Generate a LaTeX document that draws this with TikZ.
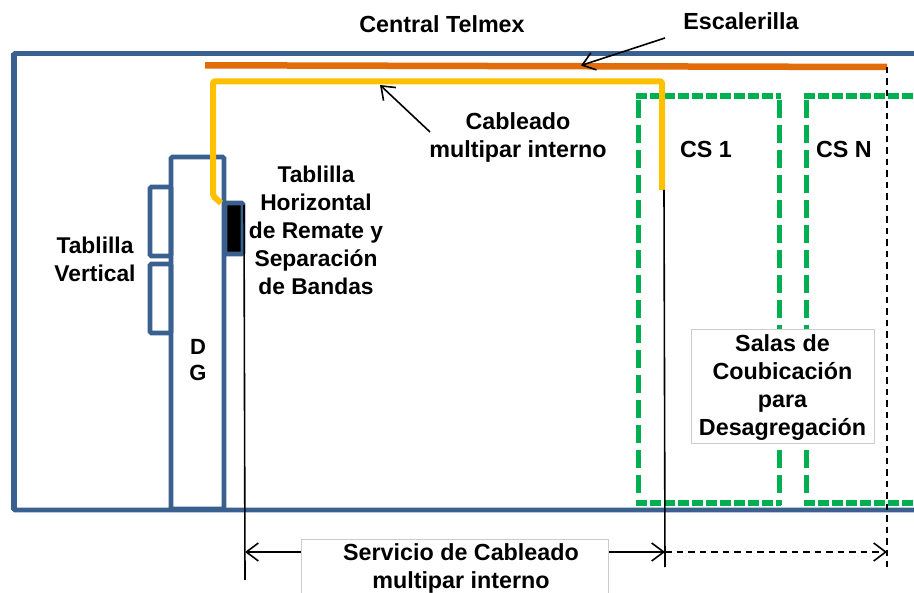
\documentclass[tikz,border=0pt]{standalone}
\usepackage{fontspec}
\setmainfont{Liberation Sans}
\usetikzlibrary{arrows.meta}
\definecolor{frameblue}{HTML}{3A6090}
\definecolor{trayorange}{HTML}{E36C0A}
\definecolor{cableyellow}{HTML}{FFC000}
\definecolor{roomgreen}{HTML}{00B050}
\tikzset{
  x=1pt,y=-1pt,
  lbl/.style={font=\bfseries\fontsize{23.3}{28}\selectfont,align=center,text=black,inner sep=0pt},
  lblnarrow/.style={lbl,font=\bfseries\fontsize{22.8}{28}\selectfont},
  bluebox/.style={draw=frameblue,line width=4.8pt,rounded corners=1.5pt},
  roomh/.style={draw=roomgreen,line width=6pt,dash pattern=on 11pt off 3pt},
  roomv/.style={draw=roomgreen,line width=5pt,dash pattern=on 18.5pt off 6.5pt},
  thinline/.style={draw=black,line width=1.6pt},
  dashline/.style={draw=black,line width=1.4pt,dash pattern=on 6.5pt off 5pt},
  dimarrow/.style={-{Straight Barb[length=12pt,width=18pt,line width=1.6pt]}},
  labelbox/.style={draw=black!20,line width=0.6pt,fill=white}
}
\begin{document}
\begin{tikzpicture}
\useasboundingbox (0,0) rectangle (914,593);
% named points
\coordinate (frameTL) at (13.5,53.5);
\coordinate (frameTR) at (914,53.5);
\coordinate (frameBL) at (13.5,510);
\coordinate (frameBR) at (914,510);
\coordinate (trayL) at (205,65.3);
\coordinate (trayR) at (887,67);
\coordinate (escTip) at (581,65.5);
\coordinate (multTip) at (380,85);
\coordinate (leftTickTop) at (244,205);
\coordinate (leftTickBot) at (245,580);
\coordinate (midTickTop) at (664,190);
\coordinate (midTickBot) at (665,567);
\coordinate (rightTickTop) at (887,67);
\coordinate (rightTickBot) at (887,567);
\coordinate (dimL) at (245,552);
\coordinate (dimM) at (665,552);
\coordinate (dimR) at (887,552);
% rooms
\draw[roomh] (636,96.5) -- (781,96.5);
\draw[roomh] (636,503.5) -- (781,503.5);
\draw[roomv] (638,100) -- (638,505);
\draw[roomv] (779,100) -- (779,505);
\draw[roomh] (804,96.5) -- (915,96.5);
\draw[roomh] (804,503.5) -- (915,503.5);
\draw[roomv] (806,100) -- (806,505);
% frame
\draw[bluebox] (frameTR) -- (frameTL) -- (frameBL) -- (frameBR);
\draw[frameblue,line width=6pt] (frameTL) -- (frameBL);
% distribution frame
\draw[bluebox,fill=white] (171,157) rectangle (224,509);
\draw[bluebox] (150,187) rectangle (171,256);
\draw[bluebox] (150,264) rectangle (171,333);
\draw[bluebox,fill=black] (225,203) rectangle (243,254);
% tray
\draw[trayorange,line width=6.5pt] (trayL) -- (trayR);
% yellow cable
\draw[cableyellow,line width=6pt,line join=round,rounded corners=2pt] (221,203) -- (213,196) -- (213,81.3) -- (662,81.3) -- (662,190);
% dimension ticks
\draw[thinline] (leftTickTop) -- (leftTickBot);
\draw[thinline] (midTickTop) -- (midTickBot);
\draw[dashline] (rightTickTop) -- (rightTickBot);
% labels without boxes
\node[lbl] (central) at (442,24) {Central Telmex};
\node[lbl] (esc) at (741,21) {Escalerilla};
\node[lbl] (mult) at (518,137) {Cableado\\multipar interno};
\node[lblnarrow] (tabH) at (316,230) {Tablilla\\Horizontal\\de Remate y\\Separación\\de Bandas};
\node[lblnarrow] (tabV) at (95,259) {Tablilla\\Vertical};
\node[lbl,font=\bfseries\fontsize{22}{26}\selectfont] (dg) at (198,360) {D\\G};
\node[lbl] (cs1) at (706,149) {CS 1};
\node[lbl] (csn) at (844,149) {CS N};
% boxed labels
\node[labelbox,lbl,minimum width=183pt,minimum height=114pt,inner sep=0pt,text depth=0pt] (salas) at (782.5,386) {};
\node[lbl] (salastxt) at (782.5,388) {Salas de\\Coubicación\\para\\Desagregación};
% dimension arrows
\draw[thinline,dimarrow] (400,552) -- (dimL);
\draw[thinline,dimarrow] (500,552) -- (dimM);
\draw[dashline,dimarrow] (dimM) -- (dimR);
\fill[white] (301,539) rectangle (608,593);
\draw[black!20,line width=0.6pt] (301,593) -- (301,539) -- (608,539) -- (608,593);
\node[lbl] (serv) at (461,568.5) {Servicio de Cableado\\multipar interno};
% pointer arrows
\draw[thinline,dimarrow] (665,38) -- (escTip);
\draw[thinline,dimarrow] (430,132) -- (multTip);
\end{tikzpicture}
\end{document}
